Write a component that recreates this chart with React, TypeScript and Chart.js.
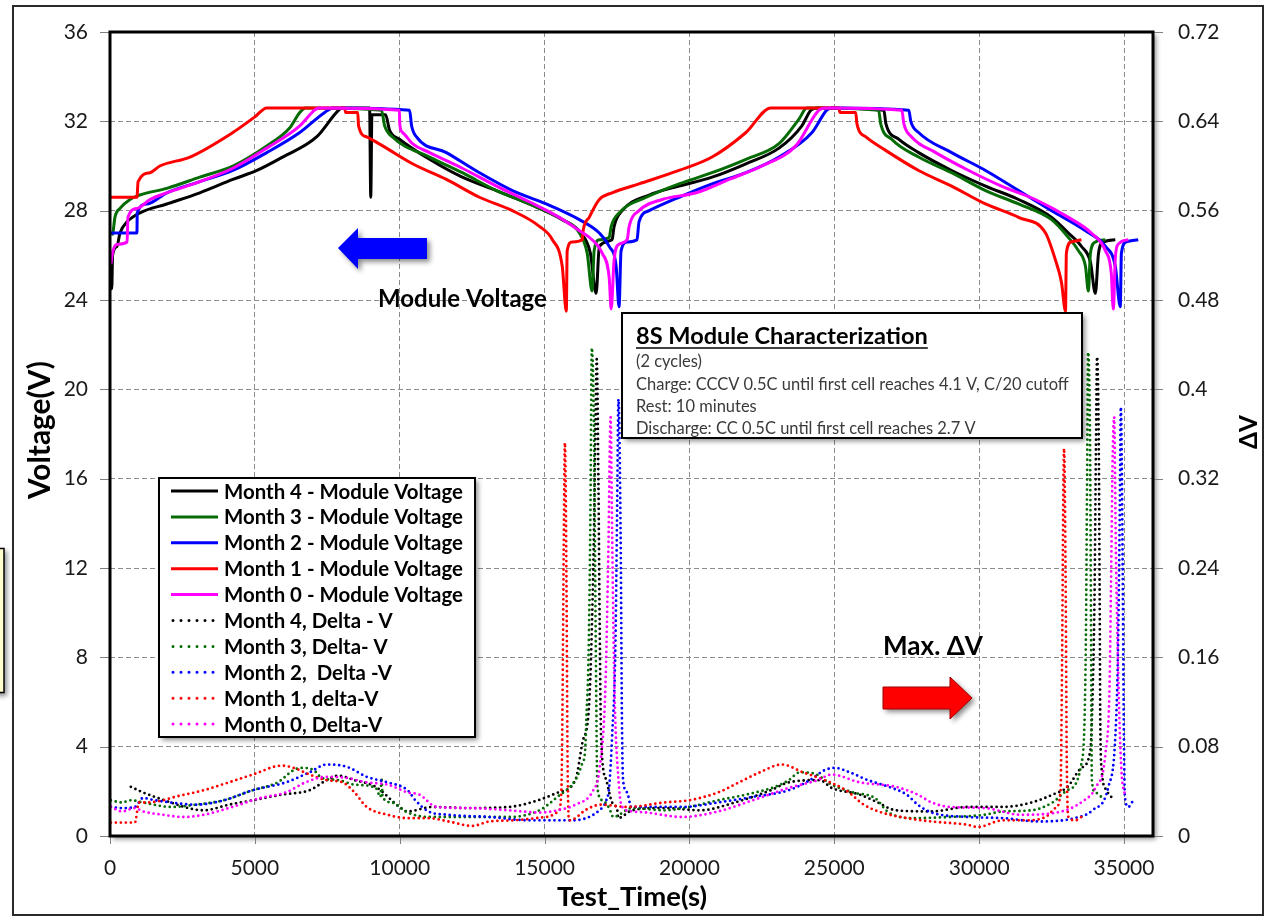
import React, { useEffect, useRef } from 'react';
import { Chart, registerables } from 'chart.js';

Chart.register(...registerables);

const W = 1266;
const H = 917;
const FONT = 'Lato, "Open Sans", sans-serif';

// ---------- Data (Test_Time in s, Voltage in V) ----------
const m4Voltage: [number, number][] = [
  [0, 24.5], [60, 24.5], [90, 26.0], [240, 26.4], [345, 27.0], [590, 27.5], [1030, 27.9], [1960, 28.3],
  [3100, 28.8], [4240, 29.4], [5070, 29.8], [5960, 30.4], [7130, 31.3], [7820, 32.4], [8000, 32.6],
  [8960, 32.6], [9000, 28.6], [9040, 32.3], [9510, 32.3], [9650, 31.6], [9990, 31.2], [11030, 30.3],
  [12160, 29.5], [13340, 28.9], [14470, 28.3], [15610, 27.6], [16250, 27.0], [16580, 26.1], [16780, 24.3],
  [16890, 26.4], [17330, 26.7], [17400, 27.3], [17680, 28.0], [18610, 28.7], [19640, 29.1], [20780, 29.5],
  [21950, 30.1], [23090, 30.8], [23880, 31.8], [24190, 32.5], [24400, 32.6], [26710, 32.5], [26780, 31.9],
  [27220, 31.2], [27910, 30.6], [29050, 29.8], [30220, 29.1], [31360, 28.5], [32500, 27.7], [33080, 27.0],
  [33530, 26.4], [33840, 25.7], [34010, 24.3], [34120, 26.1], [34290, 26.6], [34700, 26.7],
];

const m3Voltage: [number, number][] = [
  [60, 26.9], [100, 27.0], [170, 27.7], [345, 28.1], [690, 28.5], [1030, 28.7], [1960, 29.0], [3100, 29.5],
  [4240, 30.0], [5410, 30.9], [6200, 31.7], [6550, 32.4], [6750, 32.6], [9370, 32.5], [9480, 31.8],
  [9750, 31.3], [11030, 30.4], [12160, 29.7], [13340, 28.9], [14470, 28.3], [15610, 27.6], [16200, 27.0],
  [16470, 26.1], [16640, 24.4], [16710, 26.2], [16890, 26.7], [17230, 26.8], [17300, 27.3], [17570, 27.9],
  [18510, 28.6], [19640, 29.2], [20780, 29.7], [21950, 30.3], [23090, 31.0], [23780, 32.1], [24050, 32.6],
  [26530, 32.5], [26600, 31.9], [26980, 31.2], [27910, 30.4], [29050, 29.7], [30220, 28.9], [31360, 28.3],
  [32500, 27.6], [33080, 26.8], [33430, 26.2], [33670, 25.5], [33770, 24.4], [33840, 26.1], [34010, 26.6],
  [34360, 26.7],
];

const m2Voltage: [number, number][] = [
  [0, 27.0], [930, 27.0], [940, 27.9], [1280, 28.3], [1960, 28.8], [3100, 29.3], [4240, 29.8], [5410, 30.6],
  [6550, 31.5], [7410, 32.4], [7700, 32.6], [10340, 32.5], [10410, 31.8], [10580, 31.3], [11610, 30.6],
  [12750, 29.7], [13890, 28.9], [15060, 28.3], [16200, 27.6], [16890, 27.0], [17230, 26.4], [17470, 25.5],
  [17570, 23.7], [17640, 26.2], [17850, 26.6], [18190, 26.7], [18260, 27.5], [18610, 28.0], [19640, 28.6],
  [20780, 29.2], [21950, 29.7], [23090, 30.4], [24230, 31.5], [24740, 32.5], [24900, 32.6], [27570, 32.5],
  [27640, 32.0], [27910, 31.5], [29050, 30.6], [30220, 29.8], [31360, 28.9], [32500, 28.0], [33670, 27.1],
  [34360, 26.4], [34700, 25.5], [34870, 23.7], [34910, 26.1], [35080, 26.6], [35490, 26.7],
];

const m1Voltage: [number, number][] = [
  [0, 28.6], [930, 28.6], [970, 29.3], [1380, 29.7], [1720, 30.0], [2760, 30.4], [4240, 31.5], [5000, 32.2],
  [5410, 32.6], [8100, 32.6], [8130, 32.4], [8550, 32.4], [8580, 31.8], [8860, 31.3], [9410, 30.9],
  [10440, 30.1], [11610, 29.4], [12750, 28.6], [13890, 28.0], [14820, 27.3], [15270, 26.7], [15610, 25.5],
  [15750, 23.5], [15780, 26.2], [15950, 26.6], [16300, 26.7], [16330, 27.1], [16540, 27.7], [16890, 28.5],
  [17330, 28.8], [18260, 29.2], [19640, 29.8], [20780, 30.4], [21950, 31.5], [22810, 32.6], [25160, 32.6],
  [25190, 32.4], [25740, 32.4], [25780, 31.9], [26090, 31.3], [26770, 30.7], [27910, 29.8], [29050, 29.1],
  [30220, 28.3], [31360, 27.7], [32290, 27.0], [32630, 25.8], [32840, 24.8], [32980, 23.5], [33010, 26.1],
  [33180, 26.6], [33530, 26.7],
];

const m0Voltage: [number, number][] = [
  [30, 25.6], [100, 26.2], [280, 26.5], [590, 26.6], [620, 27.7], [930, 28.1], [1380, 28.5], [1960, 28.8],
  [3100, 29.3], [4240, 29.9], [5410, 30.8], [6550, 31.8], [7060, 32.5], [7200, 32.6], [9990, 32.5],
  [10000, 31.9], [10100, 31.5], [10440, 31.0], [11030, 30.6], [12160, 29.9], [13340, 29.1], [14470, 28.4],
  [15510, 27.7], [16200, 27.1], [16640, 26.7], [16990, 26.1], [17230, 25.0], [17300, 23.6], [17400, 25.8],
  [17570, 26.5], [17850, 26.7], [17920, 27.3], [18260, 28.0], [19060, 28.5], [20230, 28.8], [21370, 29.4],
  [22500, 30.0], [23670, 30.9], [24470, 32.5], [24700, 32.6], [27330, 32.5], [27400, 31.9], [27670, 31.3],
  [28500, 30.6], [29640, 29.8], [30770, 29.1], [31940, 28.5], [33080, 27.7], [33870, 27.0], [34360, 26.2],
  [34560, 25.2], [34630, 23.6], [34700, 25.9], [34800, 26.5], [35150, 26.7],
];

// ---------- Delta V (V, secondary axis) ----------
const m4Delta: [number, number][] = [
  [720, 0.044], [1140, 0.039], [1550, 0.035], [2100, 0.030], [2690, 0.025], [3240, 0.023], [4100, 0.028],
  [4930, 0.032], [5930, 0.037], [6890, 0.041], [7480, 0.050], [7890, 0.054], [8440, 0.050], [9170, 0.044],
  [9990, 0.026], [10270, 0.022], [11130, 0.026], [12370, 0.025], [13780, 0.026], [14780, 0.032],
  [15470, 0.039], [16060, 0.050], [16300, 0.083], [16540, 0.119], [16640, 0.194], [16710, 0.283],
  [16760, 0.373], [16800, 0.427], [16860, 0.313], [16900, 0.194], [16950, 0.089], [17130, 0.050],
  [17330, 0.030], [17510, 0.023], [17540, 0.016], [18020, 0.023], [19130, 0.025], [20370, 0.023],
  [21570, 0.030], [22810, 0.041], [23430, 0.048], [24500, 0.050], [24910, 0.043], [25880, 0.037],
  [26500, 0.030], [27120, 0.023], [28360, 0.022], [29600, 0.026], [30810, 0.026], [31810, 0.030],
  [32530, 0.037], [33050, 0.044], [33530, 0.061], [33840, 0.077], [33910, 0.122], [33980, 0.211],
  [34030, 0.346], [34070, 0.429], [34130, 0.346], [34160, 0.211], [34180, 0.104], [34230, 0.059],
  [34390, 0.041], [34560, 0.035],
];

const m3Delta: [number, number][] = [
  [30, 0.032], [410, 0.030], [720, 0.032], [1140, 0.030], [2100, 0.026], [2960, 0.028], [3930, 0.032],
  [4930, 0.041], [5790, 0.048], [6340, 0.059], [6620, 0.061], [7030, 0.059], [7310, 0.052], [7890, 0.050],
  [8440, 0.046], [9170, 0.043], [9340, 0.035], [9370, 0.052], [9410, 0.035], [9720, 0.030], [10270, 0.021],
  [10990, 0.017], [12370, 0.017], [13780, 0.017], [14820, 0.023], [15440, 0.035], [16060, 0.050],
  [16300, 0.065], [16400, 0.077], [16440, 0.104], [16520, 0.164], [16580, 0.283], [16630, 0.437],
  [16700, 0.373], [16740, 0.254], [16780, 0.134], [16820, 0.044], [16990, 0.032], [17230, 0.025],
  [17370, 0.017], [18020, 0.025], [19130, 0.023], [19990, 0.026], [20990, 0.032], [21950, 0.037],
  [22950, 0.044], [23430, 0.050], [23810, 0.057], [24290, 0.056], [24910, 0.046], [25640, 0.039],
  [26400, 0.034], [26880, 0.021], [27740, 0.016], [28980, 0.017], [30190, 0.019], [30810, 0.022],
  [31810, 0.023], [32530, 0.030], [33050, 0.041], [33530, 0.065], [33680, 0.167], [33720, 0.301],
  [33760, 0.433], [33830, 0.343], [33860, 0.194], [33890, 0.050], [34010, 0.039], [34220, 0.035],
  [34290, 0.034],
];

const m2Delta: [number, number][] = [
  [30, 0.026], [410, 0.025], [860, 0.026], [1140, 0.034], [1550, 0.032], [2100, 0.030], [2960, 0.028],
  [3930, 0.032], [4930, 0.041], [6070, 0.048], [6890, 0.057], [7480, 0.064], [8170, 0.062], [8860, 0.053],
  [9580, 0.048], [10270, 0.041], [10540, 0.032], [10990, 0.022], [11680, 0.019], [13090, 0.017],
  [14510, 0.014], [15890, 0.014], [16890, 0.023], [17130, 0.032], [17230, 0.044], [17330, 0.089],
  [17440, 0.164], [17500, 0.283], [17550, 0.391], [17630, 0.254], [17670, 0.104], [17710, 0.050],
  [17850, 0.039], [17990, 0.026], [18510, 0.026], [19750, 0.026], [20990, 0.030], [22190, 0.035],
  [23430, 0.041], [24160, 0.050], [24670, 0.059], [25020, 0.061], [25530, 0.057], [26160, 0.050],
  [26880, 0.044], [27500, 0.037], [27880, 0.028], [28360, 0.021], [29600, 0.017], [30810, 0.016],
  [32050, 0.013], [33290, 0.016], [33910, 0.023], [34460, 0.044], [34700, 0.089], [34790, 0.164],
  [34850, 0.283], [34890, 0.384], [34950, 0.254], [34990, 0.104], [35030, 0.035], [35150, 0.026],
  [35320, 0.032],
];

const m1Delta: [number, number][] = [
  [30, 0.012], [860, 0.012], [1000, 0.030], [1280, 0.030], [1830, 0.032], [2240, 0.035], [3240, 0.041],
  [4100, 0.048], [4930, 0.055], [5930, 0.063], [6340, 0.061], [6890, 0.055], [7480, 0.050], [8030, 0.048],
  [8440, 0.039], [8860, 0.026], [9580, 0.019], [10270, 0.016], [10990, 0.016], [11680, 0.013],
  [12510, 0.009], [13090, 0.013], [13920, 0.014], [15060, 0.017], [15480, 0.022], [15580, 0.041],
  [15620, 0.122], [15660, 0.256], [15700, 0.352], [15760, 0.211], [15790, 0.077], [15820, 0.023],
  [15850, 0.014], [16060, 0.016], [16400, 0.023], [16950, 0.028], [17880, 0.026], [19130, 0.030],
  [19990, 0.032], [20990, 0.039], [21710, 0.048], [22430, 0.057], [23190, 0.064], [23920, 0.057],
  [24670, 0.050], [25400, 0.041], [26020, 0.028], [26640, 0.021], [27500, 0.016], [28360, 0.013],
  [29600, 0.010], [29950, 0.008], [30810, 0.014], [31570, 0.014], [32290, 0.017], [32670, 0.026],
  [32810, 0.041], [32850, 0.122], [32930, 0.347], [32990, 0.211], [33020, 0.077], [33080, 0.017],
  [33320, 0.014], [33530, 0.017],
];

const m0Delta: [number, number][] = [
  [30, 0.026], [410, 0.022], [860, 0.025], [1140, 0.022], [1830, 0.019], [2550, 0.017], [3240, 0.019],
  [4100, 0.025], [5200, 0.034], [6070, 0.039], [6750, 0.048], [7480, 0.053], [8170, 0.052], [8860, 0.048],
  [9580, 0.046], [10270, 0.039], [10680, 0.037], [11270, 0.026], [12370, 0.025], [13780, 0.023],
  [14820, 0.021], [15440, 0.023], [16060, 0.028], [16680, 0.041], [16890, 0.059], [17100, 0.134],
  [17200, 0.254], [17280, 0.375], [17340, 0.254], [17410, 0.134], [17570, 0.044], [17680, 0.026],
  [18020, 0.022], [18510, 0.021], [19750, 0.017], [20990, 0.022], [22190, 0.032], [23430, 0.043],
  [24430, 0.050], [24910, 0.055], [25880, 0.048], [27120, 0.044], [27880, 0.037], [28360, 0.030],
  [28980, 0.026], [30190, 0.025], [31430, 0.019], [32670, 0.021], [33630, 0.032], [34010, 0.043],
  [34360, 0.074], [34500, 0.134], [34550, 0.223], [34610, 0.343], [34660, 0.375], [34720, 0.254],
  [34810, 0.134], [34910, 0.059], [35050, 0.035],
];

const voltageLabels = [
  'Month 4 - Module Voltage',
  'Month 3 - Module Voltage',
  'Month 2 - Module Voltage',
  'Month 1 - Module Voltage',
  'Month 0 - Module Voltage',
];
const deltaLabels = [
  'Month 4, Delta - V',
  'Month 3, Delta- V',
  'Month 2,  Delta -V',
  'Month 1, delta-V',
  'Month 0, Delta-V',
];
const seriesColors = ['#000000', '#056b05', '#0000ff', '#ff0000', '#ff00ff'];

const xAxisMax = 36000;
const xTickValues = [0, 5000, 10000, 15000, 20000, 25000, 30000, 35000];
const yLeftMax = 36;
const yLeftStep = 4;
const yRightMax = 0.72;
const yRightStep = 0.08;

const infoTitle = '8S Module Characterization';
const infoLines = [
  '(2 cycles)',
  'Charge: CCCV 0.5C until first cell reaches 4.1 V, C/20 cutoff',
  'Rest: 10 minutes',
  'Discharge: CC 0.5C until first cell reaches 2.7 V',
];

const toXY = (arr: [number, number][]) => arr.map(([x, y]) => ({ x, y }));

function fitFont(ctx: CanvasRenderingContext2D, text: string, weight: string, target: number) {
  ctx.font = `${weight} 40px ${FONT}`;
  const w = ctx.measureText(text).width;
  const size = (40 * target) / w;
  return `${weight} ${size.toFixed(2)}px ${FONT}`;
}

function shadowOn(ctx: CanvasRenderingContext2D) {
  ctx.shadowColor = 'rgba(0,0,0,0.45)';
  ctx.shadowBlur = 5;
  ctx.shadowOffsetX = 3;
  ctx.shadowOffsetY = 3;
}

function polygon(ctx: CanvasRenderingContext2D, pts: number[][]) {
  ctx.beginPath();
  pts.forEach((p, i) => (i ? ctx.lineTo(p[0], p[1]) : ctx.moveTo(p[0], p[1])));
  ctx.closePath();
}

const decor = {
  id: 'decor',
  beforeDraw(chart: any) {
    const { ctx, chartArea: a } = chart;
    ctx.save();
    ctx.fillStyle = '#ffffff';
    ctx.fillRect(0, 0, W, H);
    ctx.save();
    shadowOn(ctx);
    ctx.fillStyle = '#ffffcc';
    ctx.fillRect(-10, 548, 14, 145);
    ctx.restore();
    ctx.lineWidth = 1.5;
    ctx.strokeStyle = '#000';
    ctx.strokeRect(-10, 548.5, 14, 144);
    ctx.lineWidth = 2;
    ctx.strokeStyle = '#2a2a2a';
    ctx.strokeRect(13, 6, 1250, 909);
    ctx.save();
    shadowOn(ctx);
    ctx.fillStyle = '#fff';
    ctx.fillRect(a.left, a.top, a.right - a.left, a.bottom - a.top);
    ctx.restore();
    ctx.restore();
  },
  afterDraw(chart: any) {
    const { ctx, chartArea: a, scales } = chart;
    ctx.save();
    ctx.strokeStyle = '#808080';
    ctx.lineWidth = 1;
    ctx.setLineDash([]);
    ctx.beginPath();
    scales.y.ticks.forEach((t: any) => {
      const y = Math.round(scales.y.getPixelForValue(t.value)) + 0.5;
      ctx.moveTo(a.left - 10, y);
      ctx.lineTo(a.left, y);
    });
    scales.y2.ticks.forEach((t: any) => {
      const y = Math.round(scales.y2.getPixelForValue(t.value)) + 0.5;
      ctx.moveTo(a.right, y);
      ctx.lineTo(a.right + 10, y);
    });
    scales.x.ticks.forEach((t: any) => {
      const x = Math.round(scales.x.getPixelForValue(t.value)) + 0.5;
      ctx.moveTo(x, a.bottom);
      ctx.lineTo(x, a.bottom + 8);
    });
    ctx.stroke();

    ctx.lineWidth = 3;
    ctx.strokeStyle = '#000';
    ctx.strokeRect(a.left, a.top, a.right - a.left, a.bottom - a.top);

    ctx.fillStyle = '#000';
    ctx.textBaseline = 'middle';
    ctx.textAlign = 'center';
    ctx.font = fitFont(ctx, 'Test_Time(s)', 'bold', 150);
    ctx.fillText('Test_Time(s)', 632, 897);
    ctx.save();
    ctx.translate(40, 430);
    ctx.rotate(-Math.PI / 2);
    ctx.font = fitFont(ctx, 'Voltage(V)', 'bold', 138);
    ctx.fillText('Voltage(V)', 0, 0);
    ctx.restore();
    ctx.save();
    ctx.translate(1249, 432);
    ctx.rotate(-Math.PI / 2);
    ctx.font = fitFont(ctx, 'ΔV', 'bold', 34);
    ctx.fillText('ΔV', 0, 0);
    ctx.restore();

    const lx = 159, ly = 478, lw = 316, lh = 259;
    ctx.save();
    shadowOn(ctx);
    ctx.fillStyle = '#fff';
    ctx.fillRect(lx, ly, lw, lh);
    ctx.restore();
    ctx.lineWidth = 2;
    ctx.strokeStyle = '#000';
    ctx.strokeRect(lx, ly, lw, lh);
    const legendFont = fitFont(ctx, voltageLabels[0], 'bold', 239);
    ctx.textAlign = 'left';
    chart.data.datasets.forEach((ds: any, i: number) => {
      const y = 491 + i * 25.9;
      const dotted = !!ds.borderDash;
      ctx.save();
      ctx.strokeStyle = ds.borderColor;
      ctx.lineWidth = dotted ? 3 : ds.borderWidth;
      ctx.lineCap = dotted ? 'round' : 'butt';
      ctx.setLineDash(dotted ? [0, 8] : []);
      ctx.beginPath();
      ctx.moveTo(dotted ? 173 : 171, y);
      ctx.lineTo(218, y);
      ctx.stroke();
      ctx.restore();
      ctx.font = legendFont;
      ctx.fillStyle = '#000';
      ctx.fillText(ds.label, 224, y + 1);
    });

    const bx = 622, by = 313, bw = 460, bh = 125;
    ctx.save();
    shadowOn(ctx);
    ctx.fillStyle = '#fff';
    ctx.fillRect(bx, by, bw, bh);
    ctx.restore();
    ctx.lineWidth = 2;
    ctx.strokeStyle = '#000';
    ctx.strokeRect(bx, by, bw, bh);
    ctx.font = fitFont(ctx, infoTitle, 'bold', 292);
    ctx.fillStyle = '#000';
    ctx.fillText(infoTitle, 636, 336);
    const tw = ctx.measureText(infoTitle).width;
    ctx.lineWidth = 1.6;
    ctx.beginPath();
    ctx.moveTo(636, 348);
    ctx.lineTo(636 + tw, 348);
    ctx.stroke();
    ctx.font = fitFont(ctx, infoLines[1], 'normal', 433);
    ctx.fillStyle = '#3a3a3a';
    const lineYs = [362, 385, 407, 429];
    infoLines.forEach((t, i) => ctx.fillText(t, 636, lineYs[i]));

    ctx.fillStyle = '#000';
    ctx.font = fitFont(ctx, 'Module Voltage', 'bold', 169);
    ctx.fillText('Module Voltage', 378, 299);
    ctx.font = fitFont(ctx, 'Max. ΔV', 'bold', 100);
    ctx.fillText('Max. ΔV', 883, 647);

    const blue = [[338, 248], [358, 228], [358, 238], [427, 238], [427, 259], [358, 259], [358, 269]];
    ctx.save();
    shadowOn(ctx);
    polygon(ctx, blue);
    ctx.fillStyle = '#0000ff';
    ctx.fill();
    ctx.restore();
    const red = [[883, 687], [950, 687], [950, 677], [972, 698], [950, 719], [950, 709], [883, 709]];
    ctx.save();
    shadowOn(ctx);
    polygon(ctx, red);
    ctx.fillStyle = '#ff0000';
    ctx.fill();
    ctx.restore();
    polygon(ctx, red);
    ctx.lineWidth = 1;
    ctx.strokeStyle = '#a00000';
    ctx.stroke();

    ctx.restore();
  },
};

export default function App() {
  const ref = useRef<HTMLCanvasElement>(null);

  useEffect(() => {
    if (!ref.current) return;
    const voltageSets = [m4Voltage, m3Voltage, m2Voltage, m1Voltage, m0Voltage];
    const deltaSets = [m4Delta, m3Delta, m2Delta, m1Delta, m0Delta];
    const datasets: any[] = [];
    voltageSets.forEach((d, i) =>
      datasets.push({
        label: voltageLabels[i],
        data: toXY(d),
        borderColor: seriesColors[i],
        backgroundColor: seriesColors[i],
        borderWidth: 3,
        pointRadius: 0,
        cubicInterpolationMode: 'monotone',
        borderJoinStyle: 'round',
        yAxisID: 'y',
        order: 10 - i,
      })
    );
    deltaSets.forEach((d, i) =>
      datasets.push({
        label: deltaLabels[i],
        data: toXY(d),
        borderColor: seriesColors[i],
        backgroundColor: seriesColors[i],
        borderWidth: 2.8,
        borderDash: [0, 5],
        borderCapStyle: 'round',
        pointRadius: 0,
        cubicInterpolationMode: 'monotone',
        yAxisID: 'y2',
        order: 5 - i,
      })
    );

    const tickFont = { family: FONT, size: 21 };
    const gridOpts = { color: '#8c8c8c', lineWidth: 1, drawTicks: false };
    const borderOpts = { display: false, dash: [5, 3] };

    const chart = new Chart(ref.current, {
      type: 'line',
      data: { datasets },
      plugins: [decor],
      options: {
        responsive: false,
        animation: false,
        devicePixelRatio: 1,
        layout: { padding: { top: 32, left: 0, right: 0, bottom: 0 } },
        plugins: { legend: { display: false }, tooltip: { enabled: false } },
        scales: {
          x: {
            type: 'linear',
            min: 0,
            max: xAxisMax,
            ticks: {
              font: tickFont,
              color: '#1a1a1a',
              padding: 20,
              maxRotation: 0,
              minRotation: 0,
              autoSkip: false,
              callback: (v: any) => String(v),
            },
            afterBuildTicks: (ax: any) => {
              ax.ticks = xTickValues.map((v) => ({ value: v }));
            },
            afterFit: (ax: any) => {
              ax.height = 81;
              ax.paddingLeft = 0;
              ax.paddingRight = 0;
            },
            grid: gridOpts,
            border: borderOpts,
          },
          y: {
            type: 'linear',
            position: 'left',
            min: 0,
            max: yLeftMax,
            ticks: { stepSize: yLeftStep, font: tickFont, color: '#1a1a1a', padding: 22 },
            afterFit: (ax: any) => {
              ax.width = 110;
              ax.paddingTop = 0;
              ax.paddingBottom = 0;
            },
            grid: gridOpts,
            border: borderOpts,
          },
          y2: {
            type: 'linear',
            position: 'right',
            min: 0,
            max: yRightMax,
            ticks: {
              stepSize: yRightStep,
              font: tickFont,
              color: '#1a1a1a',
              padding: 25,
              callback: (v: any) => String(Number(Number(v).toFixed(2))),
            },
            afterFit: (ax: any) => {
              ax.width = 113;
              ax.paddingTop = 0;
              ax.paddingBottom = 0;
            },
            grid: { display: false, drawTicks: false },
            border: { display: false },
          },
        },
      } as any,
    });
    return () => chart.destroy();
  }, []);

  return (
    <div style={{ position: 'fixed', left: 0, top: 0, width: W, height: H, background: '#fff' }}>
      <canvas ref={ref} width={W} height={H} style={{ display: 'block', width: W, height: H }} />
    </div>
  );
}
